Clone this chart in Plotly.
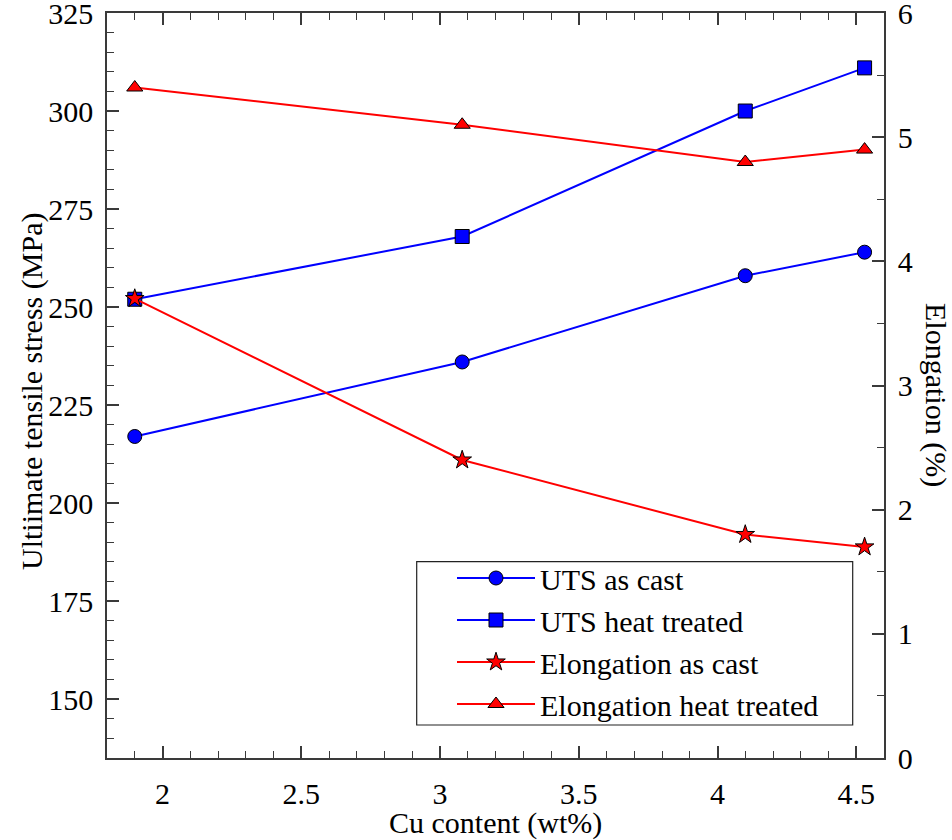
import plotly.graph_objects as go

# Cu content of the alloys (wt%)
cu_content = [1.9, 3.08, 4.1, 4.53]

# Ultimate tensile stress (MPa)
uts_as_cast = [217, 236, 258, 264]
uts_heat_treated = [252, 268, 300, 311]

# Elongation (%)
elong_as_cast = [3.7, 2.4, 1.8, 1.7]
elong_heat_treated = [5.4, 5.1, 4.8, 4.9]

x_ticks = [2, 2.5, 3, 3.5, 4, 4.5]
x_tick_text = ["2", "2.5", "3", "3.5", "4", "4.5"]
uts_ticks = [150, 175, 200, 225, 250, 275, 300, 325]
elong_ticks = [0, 1, 2, 3, 4, 5, 6]

BLUE = "#0000FF"
RED = "#FF0000"
FONT = "Liberation Serif"
AXIS_COLOR = "#3a3a3a"

# Plot area in pixels
W, H = 952, 840
ML, MR, MT, MB = 107, 68, 13, 82
PW, PH = W - ML - MR, H - MT - MB


def px_x(px):
    return (px - ML) / PW


def px_y(py):
    return (H - MB - py) / PH


fig = go.Figure()


def add_series(x, y, name, color, symbol, yaxis):
    fig.add_trace(go.Scatter(
        x=x, y=y, name=name, yaxis=yaxis,
        mode="lines+markers",
        line=dict(color=color, width=2),
        marker=dict(symbol=symbol, size=14,
                    color=color, line=dict(color="black", width=1)),
    ))


add_series(cu_content, uts_as_cast, "UTS as cast", BLUE, "circle", "y")
add_series(cu_content, uts_heat_treated, "UTS heat treated", BLUE, "square", "y")
add_series(cu_content, elong_as_cast, "Elongation as cast", RED, "star", "y2")
add_series(cu_content, elong_heat_treated, "Elongation heat treated", RED, "triangle-up", "y2")

tick_font = dict(family=FONT, size=30, color="black")
title_font = dict(family=FONT, size=30, color="black")
common = dict(
    ticks="inside", ticklen=12, tickwidth=1.5, tickcolor=AXIS_COLOR,
    showline=True, linecolor=AXIS_COLOR, linewidth=1.5,
    showgrid=False, zeroline=False, tickfont=tick_font,
    automargin=False, ticklabeloverflow="allow",
)

fig.update_layout(
    width=W, height=H,
    margin=dict(l=ML, r=MR, t=MT, b=MB),
    paper_bgcolor="white", plot_bgcolor="white",
    font=dict(family=FONT, size=30, color="black"),
    xaxis=dict(
        range=[1.8, 4.6], tickvals=x_ticks, ticktext=x_tick_text,
        minor=dict(dtick=0.1, ticks="inside", ticklen=7, tickwidth=1.2, tickcolor=AXIS_COLOR),
        mirror="ticks", ticklabelstandoff=8, **common,
    ),
    yaxis=dict(
        range=[135, 325], tickvals=uts_ticks,
        minor=dict(dtick=5, tick0=0, ticks="inside", ticklen=7, tickwidth=1.2, tickcolor=AXIS_COLOR),
        ticklabelstandoff=6, **common,
    ),
    yaxis2=dict(
        range=[0, 6], tickvals=elong_ticks, overlaying="y", side="right",
        minor=dict(dtick=0.5, ticks="inside", ticklen=7, tickwidth=1.2, tickcolor=AXIS_COLOR),
        ticklabelstandoff=6, **common,
    ),
    legend=dict(
        x=px_x(452), y=px_y(552), xanchor="left", yanchor="top",
        bgcolor="rgba(0,0,0,0)", borderwidth=0,
        font=dict(family=FONT, size=30, color="black"),
        itemwidth=78,
    ),
    showlegend=True,
)

# Axis titles
fig.add_annotation(
    text="Cu content (wt%)", xref="paper", yref="paper",
    x=0.5, y=px_y(823), xanchor="center", yanchor="middle",
    showarrow=False, font=title_font,
)
fig.add_annotation(
    text="Ultiimate tensile stress (MPa)", xref="paper", yref="paper",
    x=px_x(32), y=px_y(392), xanchor="center", yanchor="middle",
    textangle=-90, showarrow=False, font=title_font,
)
fig.add_annotation(
    text="Elongation (%)", xref="paper", yref="paper",
    x=px_x(936), y=px_y(395), xanchor="center", yanchor="middle",
    textangle=90, showarrow=False, font=title_font,
)

# Frame around the legend
fig.add_shape(
    type="rect", xref="paper", yref="paper",
    x0=px_x(416.7), x1=px_x(852.7), y0=px_y(725), y1=px_y(561.7),
    line=dict(color="#222", width=1.2), fillcolor="rgba(0,0,0,0)", layer="below",
)

fig.write_html("out.html")
